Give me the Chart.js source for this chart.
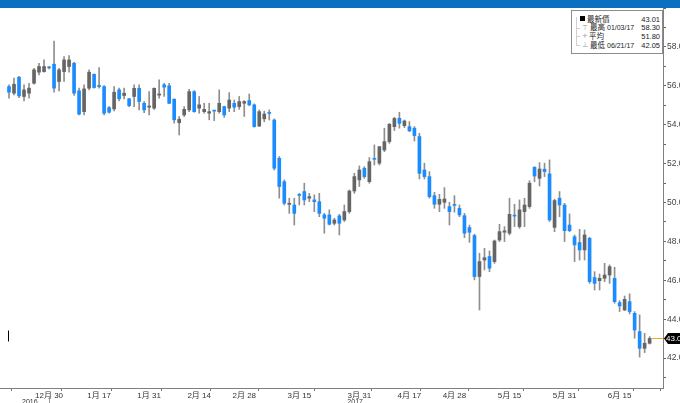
<!DOCTYPE html>
<html>
<head>
<meta charset="utf-8">
<script src="https://cdn.jsdelivr.net/npm/chart.js@4.4.1/dist/chart.umd.min.js"></script>
<style>
  html, body { margin: 0; padding: 0; background: #fff; }
  #contenedor { position: relative; width: 680px; height: 403px; overflow: hidden; }
  #grafico { position: absolute; left: 0; top: 0; }
  #barra { position: absolute; left: 0; top: 0; width: 680px; height: 8px; background: #0b6fc2; }
  #leyenda {
    position: absolute; left: 571px; top: 10px; width: 90px; height: 42px;
    border: 1px solid #8c8c8c; background: #fff;
    font-family: 'Liberation Sans', 'Noto Sans CJK TC', sans-serif; font-size: 7.5px; color: #222;
  }
  #leyenda span { position: absolute; line-height: 9px; white-space: nowrap; }
  #leyenda .valor { right: 2px; }
  #leyenda .fecha { left: 35px; font-size: 7px; }
  #leyenda .icono { color: #999; font-family: 'DejaVu Sans', sans-serif; font-size: 7px; }
  #leyenda .arbol { position: absolute; left: 4px; top: 6px; width: 1px; height: 28px; background: #cfcfcf; }
  #leyenda .rama { position: absolute; left: 4px; width: 4px; height: 1px; background: #cfcfcf; }
</style>
</head>
<body>
<div id="contenedor">
  <canvas id="grafico" width="680" height="403"></canvas>
  <div id="barra"></div>
  <div id="leyenda">
    <div class="arbol"></div>
    <div class="rama" style="top:17px"></div>
    <div class="rama" style="top:25px"></div>
    <div class="rama" style="top:34px"></div>
    <span style="left:8px; top:5px; width:5px; height:5px; background:#000;"></span>
    <span style="left:15px; top:3.5px">最新價</span><span class="valor" style="top:3.5px">43.01</span>
    <span class="icono" style="left:10px; top:12.5px">⊤</span>
    <span style="left:18px; top:12.2px">最高</span><span class="fecha" style="top:12.2px">01/03/17</span><span class="valor" style="top:12.2px">58.30</span>
    <span class="icono" style="left:10px; top:21px">+</span>
    <span style="left:17px; top:20.8px">平均</span><span class="valor" style="top:20.8px">51.80</span>
    <span class="icono" style="left:10px; top:29.5px">⊥</span>
    <span style="left:18px; top:29.5px">最低</span><span class="fecha" style="top:29.5px">06/21/17</span><span class="valor" style="top:29.5px">42.05</span>
  </div>
</div>
<script>
// Datos del gráfico (velas diarias)
const fechas = [
  '12/19','12/20','12/21','12/22','12/23','12/27','12/28','12/29','12/30',
  '1/3','1/4','1/5','1/6','1/9','1/10','1/11','1/12','1/13','1/17','1/18','1/19','1/20','1/23','1/24','1/25','1/26','1/27','1/30','1/31',
  '2/1','2/2','2/3','2/6','2/7','2/8','2/9','2/10','2/13','2/14','2/15','2/16','2/17','2/21','2/22','2/23','2/24','2/27','2/28',
  '3/1','3/2','3/3','3/6','3/7','3/8','3/9','3/10','3/13','3/14','3/15','3/16','3/17','3/20','3/21','3/22','3/23','3/24','3/27','3/28','3/29','3/30','3/31',
  '4/3','4/4','4/5','4/6','4/7','4/10','4/11','4/12','4/13','4/17','4/18','4/19','4/20','4/21','4/24','4/25','4/26','4/27','4/28',
  '5/1','5/2','5/3','5/4','5/5','5/8','5/9','5/10','5/11','5/12','5/15','5/16','5/17','5/18','5/19','5/22','5/23','5/24','5/25','5/26','5/30','5/31',
  '6/1','6/2','6/5','6/6','6/7','6/8','6/9','6/12','6/13','6/14','6/15','6/16','6/19','6/20','6/21','6/22','6/23'
];
const aperturas = [
  55.96,55.62,56.44,55.45,55.62,56.13,56.70,56.73,56.96,
  57.11,56.22,56.73,56.99,57.16,55.74,54.67,55.88,56.59,56.02,55.96,54.88,54.81,55.79,55.50,55.33,55.45,55.87,55.10,54.90,
  54.85,55.52,56.05,56.00,55.31,54.10,54.50,54.76,55.70,54.85,54.67,54.59,54.72,54.67,54.93,54.85,55.10,54.93,55.10,
  55.24,55.02,53.93,54.30,54.60,54.24,52.27,51.07,49.90,49.87,50.40,50.56,50.22,50.13,50.04,49.36,49.36,48.93,49.31,49.10,49.53,50.59,51.16,
  51.76,51.07,52.26,52.02,52.70,53.13,53.90,54.33,53.95,53.90,53.82,53.39,51.67,51.33,50.35,49.91,50.01,49.79,49.89,
  49.70,49.32,48.71,48.30,46.19,47.04,47.22,46.96,48.07,48.47,48.42,49.34,48.76,49.53,49.79,51.81,51.24,51.71,51.47,48.72,50.22,49.87,
  48.84,48.24,47.94,47.56,48.16,46.14,45.98,46.10,46.27,46.10,44.85,44.47,44.90,44.30,43.36,42.50,42.76
];
const maximos = [
  56.05,56.39,56.48,56.05,56.13,56.90,57.16,57.33,57.00,
  58.30,56.90,57.50,57.55,57.21,55.88,56.05,56.82,56.62,56.94,56.01,54.93,55.96,55.88,55.88,55.36,56.05,56.05,55.19,55.70,
  55.90,56.30,56.13,56.13,55.33,54.42,54.93,55.82,55.75,55.45,55.10,55.10,54.74,55.79,54.95,55.65,55.27,55.45,55.24,
  55.58,55.07,54.76,54.70,54.76,54.30,52.36,51.16,50.22,50.22,50.47,50.99,50.47,50.39,50.47,49.44,49.62,49.19,49.39,49.87,50.64,51.50,51.88,
  51.84,52.31,52.96,52.87,53.82,54.07,54.38,54.64,54.24,54.16,53.90,53.56,52.02,51.59,50.52,50.42,50.77,50.01,50.35,
  49.87,49.44,48.84,48.37,47.39,47.64,47.51,48.07,48.88,48.76,50.22,49.91,50.13,50.22,51.12,51.84,52.05,52.02,52.19,50.17,50.56,49.96,
  49.41,48.33,48.62,48.59,48.21,46.44,46.32,46.87,46.79,46.67,44.95,45.19,45.30,44.39,44.22,43.27,43.10
];
const minimos = [
  55.36,55.53,55.39,55.22,55.36,56.08,56.56,56.70,56.87,
  55.67,55.74,56.22,56.70,55.50,54.50,54.50,55.79,55.88,55.88,54.50,54.59,54.71,55.22,55.33,54.93,54.93,54.76,54.62,54.50,
  54.79,55.36,55.45,55.08,54.08,53.47,54.42,54.67,54.64,54.59,54.59,54.25,54.21,54.59,54.38,54.67,54.67,54.79,54.42,
  54.97,53.87,53.90,54.15,54.24,51.67,50.22,49.87,49.44,48.84,49.87,49.87,50.04,49.53,49.27,48.42,48.84,48.84,48.33,49.02,49.44,50.47,50.82,
  51.24,50.99,51.93,51.93,52.61,53.04,53.70,53.82,53.85,53.64,53.16,51.21,51.21,50.22,49.70,49.53,49.70,48.84,49.50,
  49.27,48.19,47.95,46.02,44.47,46.53,46.44,46.87,47.99,47.99,48.33,48.76,48.67,48.76,49.70,51.07,50.85,51.33,49.02,48.50,49.27,47.99,
  48.50,46.96,47.04,47.04,45.84,45.50,45.50,45.93,45.84,44.82,44.39,44.44,44.27,43.02,42.05,42.28,42.72
];
const cierres = [
  55.67,56.08,55.48,55.79,55.88,56.82,56.99,56.99,56.92,
  55.88,56.82,57.33,57.33,55.62,54.54,55.84,56.70,55.91,55.96,54.59,54.64,55.67,55.33,55.62,54.98,55.87,55.19,54.76,54.96,
  55.87,55.58,55.93,55.10,54.25,54.28,54.79,55.70,54.67,55.02,54.79,54.67,54.70,55.10,54.50,55.27,54.90,55.19,55.19,
  55.02,53.90,54.67,54.55,54.58,51.76,50.82,49.96,49.96,49.44,50.36,50.13,50.30,50.04,49.44,49.19,48.88,49.10,48.93,49.53,50.59,51.33,51.67,
  51.33,52.10,52.22,52.87,53.13,54.02,54.32,54.07,54.19,53.68,53.44,51.50,51.33,50.30,49.91,50.16,50.18,49.53,49.85,
  49.36,48.42,48.47,46.19,46.96,47.16,46.62,48.02,48.50,48.54,49.39,49.30,49.62,49.87,50.99,51.36,51.72,51.59,49.10,50.10,49.87,48.55,
  48.55,47.82,47.56,48.33,45.93,45.84,46.10,46.27,46.70,44.90,44.68,45.02,44.39,43.44,42.50,42.76,43.01
];
// Etiquetas del eje X y del eje Y
const fechasEtiqueta = ['12/30','1/17','1/31','2/14','2/28','3/15','3/31','4/17','4/28','5/15','5/31','6/15'];
const textosEtiqueta = ['12月 30','1月 17','1月 31','2月 14','2月 28','3月 15','3月 31','4月 17','4月 28','5月 15','5月 31','6月 15'];
const anios = ['2016', '2017'];
const ultimoPrecio = 43.01;

(function() {
    const AZUL = '#1a8cff';
    const GRIS = '#656565';
    const MECHA = '#8e8e8e';
    const FUENTE = "'Liberation Sans', 'Noto Sans CJK TC', sans-serif";

    Chart.defaults.font.family = FUENTE;

    // posiciones de las etiquetas y marcas intermedias del eje X
    const indicesEtiqueta = fechasEtiqueta.map(f => fechas.indexOf(f));
    const etiquetaDe = {};
    indicesEtiqueta.forEach((ix, k) => { etiquetaDe[ix] = textosEtiqueta[k]; });
    const marcas = [indicesEtiqueta[0] - 5];
    indicesEtiqueta.forEach((ix, k) => {
        if (k > 0) marcas.push((indicesEtiqueta[k - 1] + ix) / 2);
    });
    marcas.push(indicesEtiqueta[indicesEtiqueta.length - 1] + 5.5);
    const ticksX = indicesEtiqueta.concat(marcas).sort((a, b) => a - b);

    const mechas = fechas.map((f, i) => ({ x: i, y: [minimos[i], maximos[i]] }));
    const cuerpos = fechas.map((f, i) => ({ x: i, y: [aperturas[i], cierres[i]] }));

    const extras = {
        id: 'extras',
        afterDraw(chart) {
            const ctx = chart.ctx;
            const ex = chart.scales.x;
            const ey = chart.scales.y;
            const area = chart.chartArea;
            ctx.save();
            // línea del último precio
            const yp = Math.round(ey.getPixelForValue(ultimoPrecio)) + 0.5;
            const xu = ex.getPixelForValue(fechas.length - 1);
            ctx.strokeStyle = '#f5a623';
            ctx.lineWidth = 1;
            ctx.beginPath();
            ctx.moveTo(xu + 2, yp);
            ctx.lineTo(area.right, yp);
            ctx.stroke();
            // etiqueta del último precio
            ctx.fillStyle = '#000';
            ctx.beginPath();
            ctx.moveTo(area.right + 1, yp);
            ctx.lineTo(area.right + 5, yp - 5.5);
            ctx.lineTo(area.right + 20, yp - 5.5);
            ctx.lineTo(area.right + 20, yp + 5.5);
            ctx.lineTo(area.right + 5, yp + 5.5);
            ctx.closePath();
            ctx.fill();
            ctx.fillStyle = '#fff';
            ctx.font = '8px ' + FUENTE;
            ctx.textBaseline = 'middle';
            ctx.textAlign = 'left';
            ctx.fillText(ultimoPrecio.toFixed(1), area.right + 3, yp + 0.5);
            // marca a la izquierda
            ctx.strokeStyle = '#000';
            ctx.beginPath();
            ctx.moveTo(8.5, yp - 8);
            ctx.lineTo(8.5, yp + 3);
            ctx.stroke();
            // años bajo el eje X
            ctx.fillStyle = '#333';
            ctx.font = '7px ' + FUENTE;
            ctx.textBaseline = 'top';
            ctx.fillText(anios[0], 22, 399);
            ctx.fillText(anios[1], ex.getPixelForValue(fechas.indexOf('3/31')) - 12, 399);
            ctx.strokeStyle = '#999';
            ctx.beginPath();
            ctx.moveTo(49.5, 396);
            ctx.lineTo(49.5, 403);
            ctx.stroke();
            ctx.restore();
        }
    };

    new Chart(document.getElementById('grafico'), {
        type: 'bar',
        data: {
            datasets: [{
                label: 'cuerpos',
                data: cuerpos,
                order: 0,
                grouped: false,
                barThickness: 3,
                minBarLength: 1,
                borderWidth: 0,
                backgroundColor: (c) => cierres[c.dataIndex] < aperturas[c.dataIndex] ? AZUL : GRIS
            }, {
                label: 'mechas',
                data: mechas,
                order: 1,
                grouped: false,
                barThickness: 1,
                borderWidth: 0,
                backgroundColor: MECHA
            }]
        },
        plugins: [extras],
        options: {
            responsive: false,
            animation: false,
            layout: { padding: { top: 8, left: 0, right: 0, bottom: 0 } },
            plugins: { legend: { display: false }, tooltip: { enabled: false } },
            scales: {
                x: {
                    type: 'linear',
                    min: -1.8,
                    max: 130.67,
                    offset: false,
                    afterBuildTicks: (eje) => { eje.ticks = ticksX.map(v => ({ value: v })); },
                    afterFit: (eje) => { eje.height = 15; },
                    ticks: {
                        autoSkip: false,
                        maxRotation: 0,
                        padding: 0,
                        color: '#333',
                        font: { size: 8 },
                        callback: (v) => etiquetaDe[v] || ''
                    },
                    grid: {
                        drawOnChartArea: false,
                        tickLength: 3,
                        tickColor: (c) => (c.tick && etiquetaDe[c.tick.value] !== undefined) ? 'rgba(0,0,0,0)' : '#777'
                    },
                    border: { color: '#808080' }
                },
                y: {
                    position: 'right',
                    min: 40.46,
                    max: 60.0,
                    afterFit: (eje) => { eje.width = 17; },
                    ticks: {
                        stepSize: 1,
                        includeBounds: false,
                        autoSkip: false,
                        padding: 1,
                        color: '#444',
                        font: { size: 8.5 },
                        callback: (v) => (v % 2 === 0 && v < 59.5 ? v.toFixed(1) : '')
                    },
                    grid: { drawOnChartArea: false, tickLength: 3, tickColor: '#666' },
                    border: { color: '#808080' }
                }
            }
        }
    });
})();
</script>
</body>
</html>
